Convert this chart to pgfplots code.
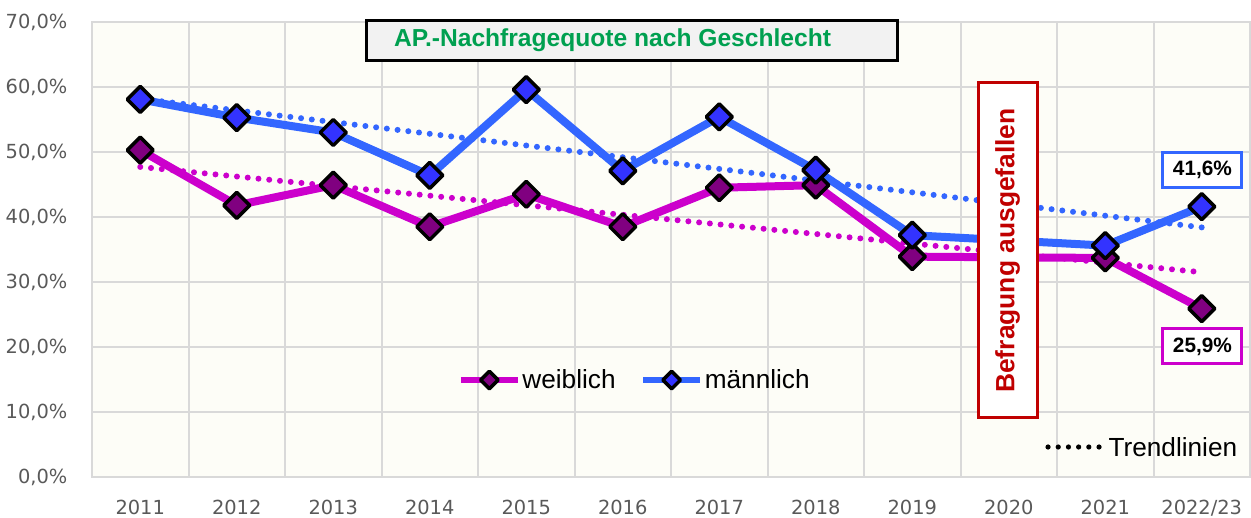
\documentclass[border=0pt]{standalone}
\usepackage{pgfplots}
\pgfplotsset{compat=1.18}
\usepackage{fontspec}
\setmainfont{Liberation Sans}
\newfontfamily\dejavu{DejaVu Sans}
\definecolor{gridgray}{RGB}{217,217,217}
\definecolor{tickgray}{RGB}{89,89,89}
\definecolor{blueline}{RGB}{51,102,255}
\definecolor{bluefill}{RGB}{51,51,255}
\definecolor{pinkline}{RGB}{204,0,204}
\definecolor{pinkfill}{RGB}{128,0,128}
\definecolor{bgcream}{RGB}{253,253,247}
\definecolor{titlegreen}{RGB}{0,160,80}
\definecolor{redc}{RGB}{192,0,0}
\definecolor{boxgray}{RGB}{242,242,242}
\begin{document}
\begin{tikzpicture}
\begin{axis}[
  at={(0,0)}, anchor=south west,
  scale only axis, width=579bp, height=227.5bp,
  xmin=-0.5, xmax=11.5, ymin=0, ymax=70,
  xtick={0,1,2,3,4,5,6,7,8,9,10,11},
  xticklabels={2011,2012,2013,2014,2015,2016,2017,2018,2019,2020,2021,2022/23},
  minor xtick={-0.5,0.5,1.5,2.5,3.5,4.5,5.5,6.5,7.5,8.5,9.5,10.5,11.5},
  xminorgrids=true, xmajorgrids=false, ymajorgrids=true,
  ytick={0,10,20,30,40,50,60,70},
  yticklabels={{0,0\%},{10,0\%},{20,0\%},{30,0\%},{40,0\%},{50,0\%},{60,0\%},{70,0\%}},
  major tick length=0pt, minor tick length=0pt,
  grid style={draw=gridgray, line width=1bp},
  minor grid style={draw=gridgray, line width=1bp},
  axis line style={draw=gridgray, line width=1bp},
  axis background/.style={fill=bgcream},
  tick label style={font=\dejavu\fontsize{9.7bp}{11bp}\selectfont, text=tickgray},
  yticklabel style={xshift=-8.8bp},
  xticklabel style={yshift=-8bp},
  clip=false,
  legend columns=2,
  legend cell align=left,
  legend style={at={(axis cs:3.295,14.92)}, anchor=west, draw=none, fill=none,
    inner sep=0pt, outer sep=0pt, nodes={inner sep=1bp},
    font=\fontsize{13.1bp}{15bp}\selectfont,
    /tikz/every even column/.append style={column sep=11.5bp}},
  legend image code/.code={\draw[mark repeat=2,mark phase=2,#1] plot coordinates {(0bp,0bp) (14.25bp,0bp) (28.5bp,0bp)};},
  legend image post style={line width=2.6bp, mark size=3.1bp},
]
\addplot[draw=pinkline, line width=4bp, line join=round, mark=square*, mark size=4.6bp,
  mark options={rotate=45, fill=pinkfill, draw=black, line width=1.75bp, solid}]
  coordinates {(0,50.3)(1,41.8)(2,44.9)(3,38.5)(4,43.5)(5,38.5)(6,44.5)(7,44.9)(8,33.9)(10,33.7)(11,25.9)};
\addlegendentry{weiblich}
\addplot[draw=blueline, line width=4bp, line join=round, mark=square*, mark size=4.6bp,
  mark options={rotate=45, fill=bluefill, draw=black, line width=1.75bp, solid}]
  coordinates {(0,58.1)(1,55.3)(2,53.0)(3,46.4)(4,59.6)(5,47.1)(6,55.4)(7,47.2)(8,37.2)(10,35.6)(11,41.6)};
\addlegendentry{männlich}
\addplot[forget plot, draw=blueline, line width=3bp, line cap=round, dash pattern=on 0pt off 5.4bp]
  coordinates {(0,58.2)(11,38.4)};
\addplot[forget plot, draw=pinkline, line width=3bp, line cap=round, dash pattern=on 0pt off 5.4bp]
  coordinates {(0,47.7)(11,31.5)};
\node[draw=black, line width=1.5bp, fill=boxgray, minimum width=265.5bp, minimum height=20bp, inner sep=0pt] at (axis cs:5.091,67.23) {};
\node[inner sep=0pt, text=titlegreen, font=\bfseries\fontsize{12.3bp}{14bp}\selectfont] at (axis cs:4.894,67.23) {AP.-Nachfragequote nach Geschlecht};
\node[draw=redc, line width=1.5bp, fill=white, rotate=90, minimum width=167.5bp, minimum height=29.5bp, inner sep=0pt,
  text=redc, font=\bfseries\fontsize{13.2bp}{15bp}\selectfont] at (axis cs:8.987,34.85) {Befragung ausgefallen};
\node[draw=blueline, line width=1.5bp, fill=white, minimum width=39.5bp, minimum height=17.5bp, inner sep=0pt,
  font=\bfseries\fontsize{10.4bp}{12bp}\selectfont] at (axis cs:11.007,47.3) {41,6\%};
\node[draw=pinkline, line width=1.5bp, fill=white, minimum width=39.5bp, minimum height=17.5bp, inner sep=0pt,
  font=\bfseries\fontsize{10.4bp}{12bp}\selectfont] at (axis cs:11.007,20.08) {25,9\%};
\draw[black, line width=2.6bp, line cap=round, dash pattern=on 0pt off 5.1bp] (axis cs:9.407,4.615) -- (axis cs:9.946,4.615);
\node[anchor=west, inner sep=0pt, font=\fontsize{13.1bp}{15bp}\selectfont] at (axis cs:10.03,4.615) {Trendlinien};
\end{axis}
\pgfresetboundingbox
\path[use as bounding box] (-46bp,-20.5bp) rectangle (579.5bp,238.5bp);
\end{tikzpicture}
\end{document}
